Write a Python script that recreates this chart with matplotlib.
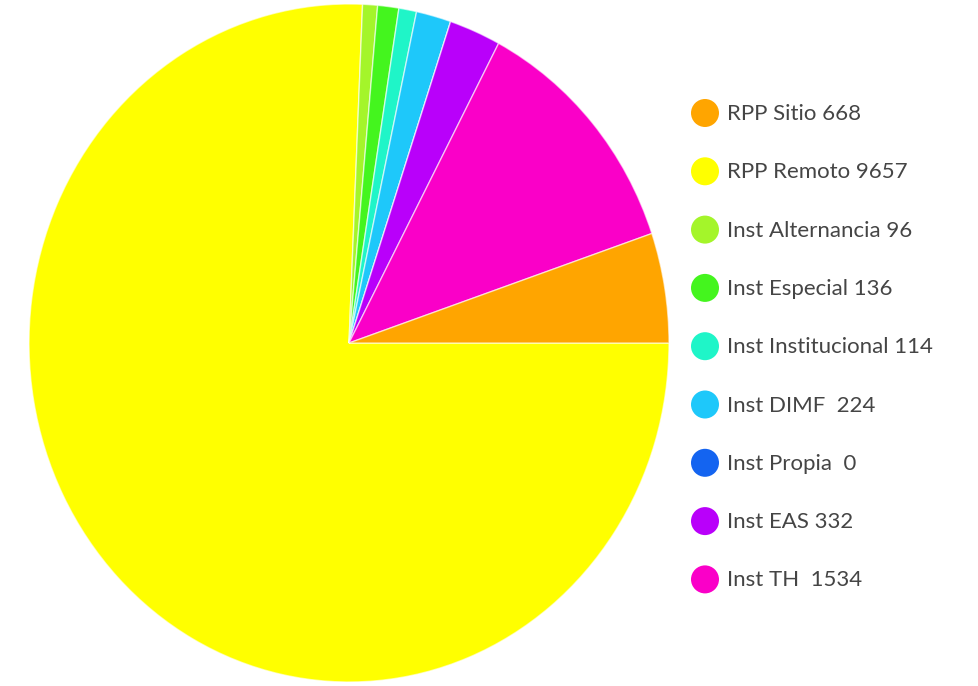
import matplotlib
matplotlib.use('Agg')
import matplotlib.pyplot as plt

# legend order
labels = ['RPP Sitio', 'RPP Remoto', 'Inst Alternancia', 'Inst Especial',
          'Inst Institucional', 'Inst DIMF', 'Inst Propia', 'Inst EAS', 'Inst TH']
values = [668, 9657, 96, 136, 114, 224, 0, 332, 1534]
legend_text = ['RPP Sitio 668', 'RPP Remoto 9657', 'Inst Alternancia 96', 'Inst Especial 136',
               'Inst Institucional 114', 'Inst DIMF  224', 'Inst Propia  0', 'Inst EAS 332', 'Inst TH  1534']
colors = ['#FFA500', '#FFFF00', '#A4F52A', '#44F51E', '#1FF5C8',
          '#1EC8FA', '#1464F0', '#B900FA', '#FA00C8']

# slices drawn clockwise starting at 3 o'clock
pie_order = [1, 2, 3, 4, 5, 6, 7, 8, 0]

W, H = 979, 686
fig = plt.figure(figsize=(W / 100, H / 100), dpi=100)

ax = fig.add_axes([29 / W, 4 / H, 640 / W, 678 / H])
ax.pie([values[i] for i in pie_order],
       colors=[colors[i] for i in pie_order],
       startangle=0, counterclock=False, radius=1,
       wedgeprops=dict(edgecolor=(1, 1, 1, 0.6), linewidth=1.0))
ax.set_aspect('auto')
ax.set_xlim(-1, 1)
ax.set_ylim(-1, 1)
ax.axis('off')

# legend drawn in pixel coordinates
lax = fig.add_axes([0, 0, 1, 1])
lax.set_xlim(0, W)
lax.set_ylim(H, 0)
lax.axis('off')
y0, step = 113, 58.3
for k, (txt, c) in enumerate(zip(legend_text, colors)):
    y = y0 + k * step
    lax.scatter([705], [y], s=(28 * 0.72) ** 2, color=c, edgecolors='none')
    lax.text(727, y + 1, txt, fontsize=16, family='Lato',
             color='#454545', va='center', ha='left')

fig.savefig('out.png', dpi=100)
